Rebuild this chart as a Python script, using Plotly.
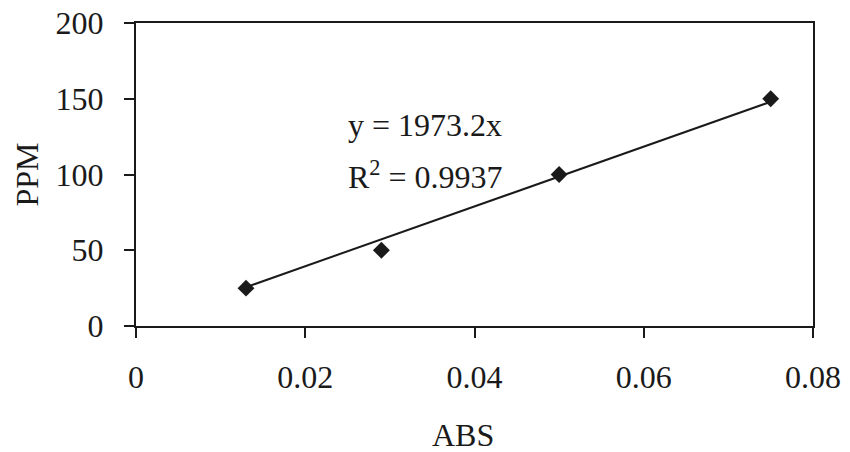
import plotly.graph_objects as go

abs_vals = [0.013, 0.029, 0.05, 0.075]
ppm_vals = [25, 50, 100, 150]
slope = 1973.2
r2 = 0.9937
trend_x = [min(abs_vals), max(abs_vals)]
trend_y = [slope * v for v in trend_x]

x_ticks = [0, 0.02, 0.04, 0.06, 0.08]
x_ticklabels = ["0", "0.02", "0.04", "0.06", "0.08"]
y_ticks = [0, 50, 100, 150, 200]

font = "Liberation Serif, Times New Roman, serif"
ink = "#1a1a1a"
fs = 32

L, R, T, B = 136, 37, 23, 126
W, H = 850, 452
pw, ph = W - L - R, H - T - B

fig = go.Figure()
fig.add_trace(go.Scatter(x=trend_x, y=trend_y, mode="lines",
                         line=dict(color=ink, width=2), showlegend=False, hoverinfo="skip"))
fig.add_trace(go.Scatter(x=abs_vals, y=ppm_vals, mode="markers",
                         marker=dict(symbol="diamond", size=13, color=ink), showlegend=False))

fig.add_annotation(x=0.0248, y=133, xref="x", yref="y", text=f"y = {slope}x",
                   showarrow=False, xanchor="left", yanchor="middle",
                   font=dict(family=font, size=fs, color=ink))
fig.add_annotation(x=0.0248, y=100, xref="x", yref="y", text=f"R<sup>2</sup> = {r2}",
                   showarrow=False, xanchor="left", yanchor="middle",
                   font=dict(family=font, size=fs, color=ink))

# axis titles
fig.add_annotation(x=(26 - L) / pw, y=0.5, xref="paper", yref="paper", text="PPM",
                   textangle=-90, showarrow=False, xanchor="center", yanchor="middle",
                   font=dict(family=font, size=fs, color=ink))
fig.add_annotation(x=(463 - L) / pw, y=-(435 - (H - B)) / ph, xref="paper", yref="paper",
                   text="ABS", showarrow=False, xanchor="center", yanchor="middle",
                   font=dict(family=font, size=fs, color=ink))

fig.update_layout(
    width=W, height=H,
    margin=dict(l=L, r=R, t=T, b=B, autoexpand=False),
    paper_bgcolor="white", plot_bgcolor="white",
    font=dict(family=font, size=fs, color=ink),
    xaxis=dict(range=[0, 0.08], tickvals=x_ticks, ticktext=x_ticklabels,
               showgrid=False, zeroline=False, showline=True, linecolor=ink, linewidth=2,
               mirror=True, ticks="outside", ticklen=10, tickwidth=2, tickcolor=ink,
               ticklabelstandoff=12, automargin=False),
    yaxis=dict(range=[0, 200], tickvals=y_ticks,
               showgrid=False, zeroline=False, showline=True, linecolor=ink, linewidth=2,
               mirror=True, ticks="outside", ticklen=10, tickwidth=2, tickcolor=ink,
               ticklabelstandoff=14, automargin=False),
)

fig.write_html("out.html")
